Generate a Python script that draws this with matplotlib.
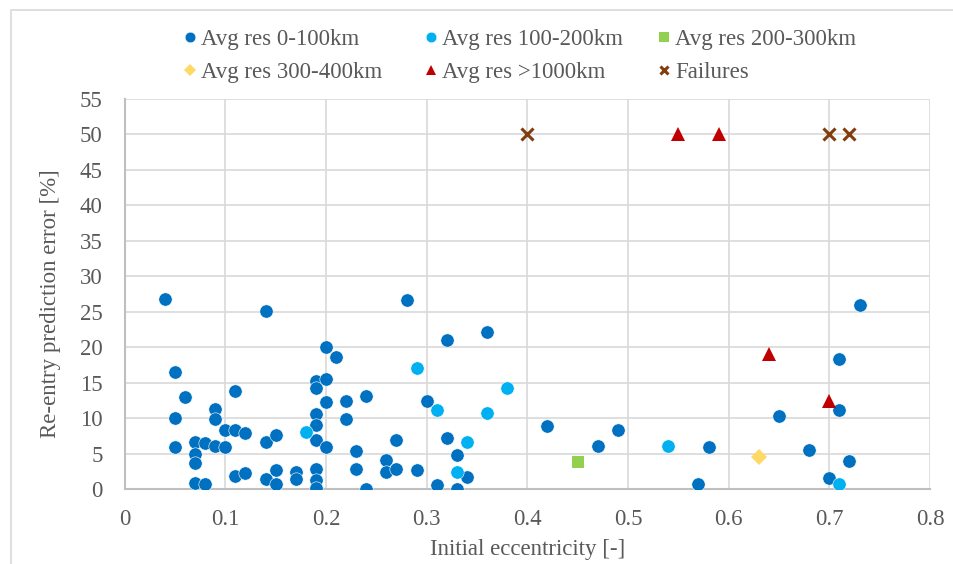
import matplotlib
matplotlib.use("Agg")
import matplotlib.pyplot as plt
from matplotlib.patches import Rectangle

plt.rcParams['font.family'] = ['Liberation Serif', 'DejaVu Serif']

# Data
res_0_100_x = [0.04, 0.14, 0.05, 0.06, 0.05, 0.05, 0.09, 0.09, 0.11, 0.10, 0.11, 0.12,
               0.07, 0.08, 0.09, 0.10, 0.07, 0.07, 0.07, 0.08, 0.11, 0.12, 0.14, 0.15,
               0.14, 0.15, 0.15, 0.17, 0.17,
               0.19, 0.19, 0.20, 0.20, 0.21, 0.20, 0.19, 0.19, 0.19, 0.20, 0.19, 0.19, 0.19,
               0.22, 0.22, 0.24, 0.23, 0.23, 0.24, 0.26, 0.26, 0.27, 0.27, 0.28, 0.29,
               0.30, 0.31, 0.32, 0.32, 0.33, 0.33, 0.34, 0.36, 0.42,
               0.47, 0.49, 0.57, 0.58, 0.65, 0.68, 0.71, 0.71, 0.73, 0.72, 0.70]
res_0_100_y = [26.8, 25.1, 16.5, 13.0, 10.0, 6.0, 11.3, 9.9, 13.9, 8.3, 8.3, 8.0,
               6.7, 6.5, 6.1, 6.0, 5.0, 3.7, 0.9, 0.7, 1.9, 2.3, 6.6, 7.7,
               1.5, 2.7, 0.8, 2.5, 1.4,
               15.3, 14.2, 20.0, 15.6, 18.6, 12.3, 10.6, 9.0, 7.0, 6.0, 2.8, 1.3, 0.2,
               12.4, 9.9, 13.2, 5.4, 2.8, 0.0, 4.1, 2.4, 2.9, 7.0, 26.7, 2.7,
               12.5, 0.6, 21.0, 7.2, 4.8, 0.0, 1.8, 22.1, 8.9,
               6.1, 8.4, 0.8, 5.9, 10.3, 5.5, 11.2, 18.4, 25.9, 4.0, 1.6]

res_100_200_x = [0.18, 0.29, 0.31, 0.33, 0.34, 0.36, 0.38, 0.54, 0.71]
res_100_200_y = [8.1, 17.1, 11.1, 2.4, 6.7, 10.8, 14.3, 6.1, 0.8]

res_200_300_x = [0.45]
res_200_300_y = [3.9]

res_300_400_x = [0.63]
res_300_400_y = [4.5]

res_1000_x = [0.55, 0.59, 0.64, 0.70]
res_1000_y = [50.0, 50.0, 19.1, 12.4]

fail_x = [0.40, 0.70, 0.72]
fail_y = [50.0, 50.0, 50.0]

labels = ["Avg res 0-100km", "Avg res 100-200km", "Avg res 200-300km",
          "Avg res 300-400km", "Avg res >1000km", "Failures"]
x_ticks = [0, 0.1, 0.2, 0.3, 0.4, 0.5, 0.6, 0.7, 0.8]
y_ticks = list(range(0, 56, 5))

W, H = 954, 564
fig = plt.figure(figsize=(W / 100, H / 100), dpi=100)
fig.patches.append(Rectangle((11 / W, -0.05), 1.1, (H - 10) / H + 0.05, transform=fig.transFigure,
                             fill=False, edgecolor='#d9d9d9', linewidth=1.2))

ax_l, ax_b, ax_r, ax_t = 124.7, 489.3, 930.0, 98.8
ax = fig.add_axes([ax_l / W, 1 - ax_b / H, (ax_r - ax_l) / W, (ax_b - ax_t) / H])

txt = '#595959'
fs = 16.5
ms = 9.6
h1, = ax.plot(res_0_100_x, res_0_100_y, 'o', color='#0070C0', ms=ms, mec='white', mew=0.4, ls='none', zorder=3)
h2, = ax.plot(res_100_200_x, res_100_200_y, 'o', color='#00B0F0', ms=ms, mec='white', mew=0.4, ls='none', zorder=4)
h3, = ax.plot(res_200_300_x, res_200_300_y, 's', color='#92D050', ms=8.5, mew=0, ls='none', zorder=4)
h4, = ax.plot(res_300_400_x, res_300_400_y, 'D', color='#FFD966', ms=8, mew=0, ls='none', zorder=4)
h5, = ax.plot(res_1000_x, res_1000_y, '^', color='#C00000', ms=9.5, mew=0, ls='none', zorder=4)
h6, = ax.plot(fail_x, fail_y, 'x', color='#843C0C', ms=8, mew=2.2, ls='none', zorder=4)

ax.set_xlim(0, 0.8)
ax.set_ylim(0, 55)
ax.set_xticks(x_ticks)
ax.set_xticklabels(['0' if t == 0 else f'{t:.1f}' for t in x_ticks])
ax.set_yticks(y_ticks)
ax.grid(True, color='#d9d9d9', linewidth=1.2, zorder=0)
ax.set_axisbelow(True)
for s in ['top', 'right']:
    ax.spines[s].set_visible(False)
for s in ['left', 'bottom']:
    ax.spines[s].set_color('#bfbfbf')
    ax.spines[s].set_linewidth(1.5)
ax.tick_params(axis='y', length=0, labelsize=fs, colors=txt, pad=16)
ax.tick_params(axis='x', length=0, labelsize=fs, colors=txt, pad=14)
ax.set_xlabel('Initial eccentricity [-]', fontsize=fs, color=txt, labelpad=7)
ax.set_ylabel('Re-entry prediction error [%]', fontsize=fs, color=txt)
ax.yaxis.set_label_coords((61 - ax_l) / (ax_r - ax_l), (ax_b - 304) / (ax_b - ax_t))

# Legend: three columns of two entries each
columns = [([h1, h4], [labels[0], labels[3]], 183),
           ([h2, h5], [labels[1], labels[4]], 424),
           ([h3, h6], [labels[2], labels[5]], 657)]
for hs, ls_, xpx in columns:
    lg = fig.legend(hs, ls_, loc='center left', bbox_to_anchor=(xpx / W, 1 - 56 / H),
                    frameon=False, fontsize=fs, labelcolor=txt, markerscale=0.8,
                    handlelength=0.6, handletextpad=0.2, labelspacing=0.5,
                    borderpad=0, borderaxespad=0)

fig.savefig('out.png', dpi=100)
